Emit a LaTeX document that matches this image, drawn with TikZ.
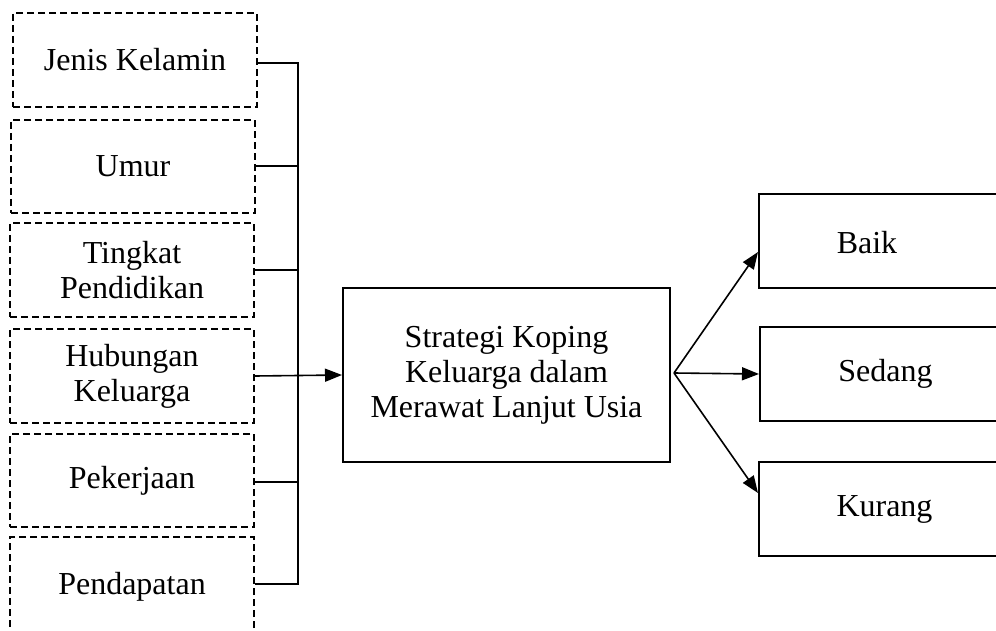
\documentclass[tikz,border=0pt]{standalone}
\usepackage{fontspec}
\setmainfont{Liberation Serif}
\usetikzlibrary{arrows.meta,calc}
\begin{document}
\begin{tikzpicture}[x=1pt,y=-1pt,
  every node/.style={font=\fontsize{32}{35}\selectfont, inner sep=0pt},
  dbox/.style={draw, line width=2.2pt, dash pattern=on 7pt off 4pt, minimum width=244pt, align=center},
  sbox/.style={draw, line width=2pt, align=center},
  conn/.style={line width=1.6pt},
  arr/.style={line width=1.6pt, -{Triangle[length=17pt,width=13pt]}}]
\useasboundingbox (0,0) rectangle (996,631);
\clip (0,0) rectangle (996,631);
% left dashed boxes
\node[dbox, minimum height=94pt] (b1) at (135,60) {Jenis Kelamin};
\node[dbox, minimum height=93pt] (b2) at (133,166.5) {Umur};
\node[dbox, minimum height=94pt] (b3) at (132,270) {Tingkat\\Pendidikan};
\node[dbox, minimum height=94pt] (b4) at (132,376) {Hubungan\\Keluarga};
\node[dbox, minimum height=93pt] (b5) at (132,480.5) {Pekerjaan};
\node[dbox, minimum height=100pt] (b6) at (132,587) {Pendapatan};
% central box
\node[sbox, minimum width=327pt, minimum height=174pt] (c) at (506.5,375) {Strategi Koping\\Keluarga dalam\\Merawat Lanjut Usia};
% right boxes
\node[sbox, minimum width=251pt, minimum height=94pt] (r1) at (884.5,241) {};
\node (t1) at (867,243) {Baik};
\node[sbox, minimum width=251pt, minimum height=94pt] (r2) at (885.5,374) {Sedang};
\node[sbox, minimum width=251pt, minimum height=94pt] (r3) at (884.5,509) {Kurang};
% bracket
\coordinate (bx) at (298,0);
\coordinate (k1) at ($(b1.east)+(0,3)$);
\coordinate (k6) at ($(b6.east)+(0,-3)$);
\draw[conn] (k1) -- (k1 -| bx) -- (k6 -| bx) -- (k6);
\draw[conn] ($(b2.east)+(0,-0.5)$) -- ($(b2.east -| bx)+(0,-0.5)$);
\draw[conn] (b3.east) -- (b3.east -| bx);
\draw[conn] ($(b5.east)+(0,1.5)$) -- ($(b5.east -| bx)+(0,1.5)$);
\draw[arr] (b4.east) -- (c.west);
% outputs
\coordinate (o) at ($(c.east)+(3,-2)$);
\draw[arr] (o) -- ($(r1.west)+(0,11)$);
\draw[arr] (o) -- (r2.west);
\draw[arr] (o) -- ($(r3.west)+(0,-16)$);
\end{tikzpicture}
\end{document}
